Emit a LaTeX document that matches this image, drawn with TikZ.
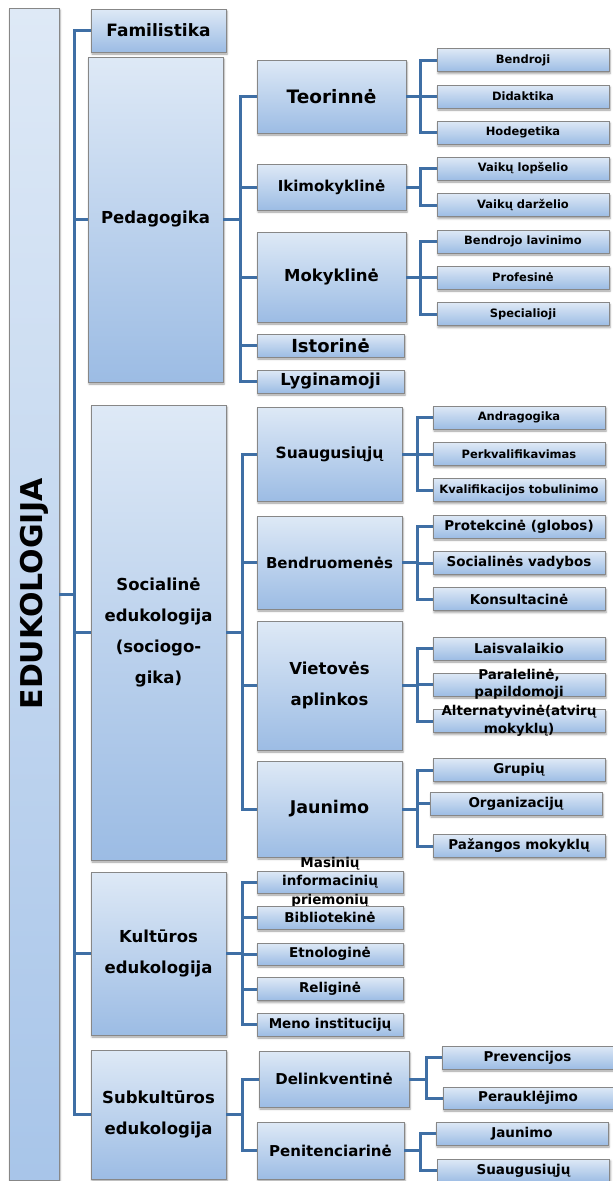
\documentclass[tikz,border=0pt]{standalone}
\usepackage{fontspec}
\setmainfont{DejaVu Sans}
\usetikzlibrary{shadows.blur}

\definecolor{boxtop}{RGB}{222,233,246}
\definecolor{boxbot}{RGB}{156,188,228}
\definecolor{roottop}{RGB}{222,233,246}
\definecolor{rootbot}{RGB}{168,197,233}
\definecolor{boxline}{RGB}{135,135,135}
\definecolor{linkblue}{RGB}{63,111,165}
\newcommand\fsz[2]{\fontsize{#1}{#2}\selectfont}

\begin{document}
\begin{tikzpicture}[x=1pt, y=-1pt,
   box/.style={draw=boxline, line width=0.7pt, top color=boxtop, bottom color=boxbot,
      inner sep=0pt, align=center,
      blur shadow={shadow xshift=1pt, shadow yshift=-2pt, shadow blur radius=2pt, shadow opacity=40}},
   wh/.style 2 args={minimum width=#1pt, minimum height=#2pt},
   fs/.style 2 args={font=\bfseries\fsz{#1}{#2}},
   topic/.style={box, wh={135}{#1}, fs={16.5}{31}},
   leaf/.style={box, wh={172}{23}},
   link/.style={draw=linkblue, line width=3pt}]
   \useasboundingbox (0,0) rectangle (613,1181);

   \node[box, wh={50}{1172}, top color=roottop, bottom color=rootbot,
      label={[rotate=90, fs={30}{36}]center:EDUKOLOGIJA}] (root) at (34,594) {};

   \node[topic=43]  (fam) at (158.5,30.5)   {\fsz{17}{20}Familistika};
   \node[topic=325] (ped) at (155.5,219.5)  {Pedagogika};
   \node[topic=455] (soc) at (158.5,632.5)  {Socialinė\\edukologija\\(sociogo-\\gika)};
   \node[topic=163] (kul) at (158.5,953.5)  {Kultūros\\edukologija};
   \node[topic=129] (sub) at (158.5,1114.5) {Subkultūros\\edukologija};

   \node[box, wh={149}{73}, fs={18.5}{22}] (teo) at (331.5,96.5) {Teorinnė};
   \node[box, wh={149}{46}, fs={15}{18}]   (iki) at (331.5,187)  {Ikimokyklinė};
   \node[box, wh={149}{90}, fs={16.5}{20}] (mok) at (331.5,277)  {Mokyklinė};
   \node[box, wh={147}{23}, fs={18}{21}]   (ist) at (330.5,345.5) {Istorinė};
   \node[box, wh={147}{23}, fs={16.5}{20}] (lyg) at (330.5,381.5) {Lyginamoji};

   \node[leaf, fs={11.5}{14}] (bdr) at (523,60)    {Bendroji};
   \node[leaf, fs={11.5}{14}] (did) at (523,96.5)  {Didaktika};
   \node[leaf, fs={11.5}{14}] (hod) at (523,132.5) {Hodegetika};
   \node[leaf, fs={11.5}{14}] (lop) at (523,168.5) {Vaikų lopšelio};
   \node[leaf, fs={11.5}{14}] (dar) at (523,205)   {Vaikų darželio};
   \node[leaf, fs={11.5}{14}] (bla) at (523,241.5) {Bendrojo lavinimo};
   \node[leaf, fs={11.5}{14}] (pro) at (523,277.5) {Profesinė};
   \node[leaf, fs={11.5}{14}] (spe) at (523,314)   {Specialioji};

   \node[box, wh={145}{94}, fs={15.5}{19}]  (sua) at (329.5,454)   {Suaugusiųjų};
   \node[box, wh={145}{93}, fs={15}{18}]    (ben) at (329.5,562.5) {Bendruomenės};
   \node[box, wh={145}{129}, fs={16.5}{31}] (vie) at (329.5,685.5) {Vietovės\\aplinkos};
   \node[box, wh={145}{96}, fs={17.5}{21}]  (jau) at (329.5,809)   {Jaunimo};

   \node[leaf, fs={11.5}{14}] (andr) at (519,417.5) {Andragogika};
   \node[leaf, fs={11.5}{14}] (per) at (519,454)   {Perkvalifikavimas};
   \node[leaf, fs={11.5}{14}] (kva) at (519,490)   {Kvalifikacijos tobulinimo};
   \node[leaf, fs={13.5}{16}] (glo) at (519,526.5) {Protekcinė (globos)};
   \node[leaf, fs={13.5}{16}] (vad) at (519,563)   {Socialinės vadybos};
   \node[leaf, fs={13.5}{16}] (kon) at (519,599)   {Konsultacinė};
   \node[leaf, fs={13.5}{16}] (lai) at (519,648.5) {Laisvalaikio};
   \node[leaf, label={[fs={13.5}{17}, align=center]center:{Paralelinė,\\papildomoji}}] (par) at (519,684.5) {};
   \node[leaf, label={[fs={13.5}{17.6}, align=center]center:{Alternatyvinė(atvirų\\mokyklų)}}] (alt) at (519,721) {};
   \node[leaf, fs={13.5}{16}] (gru) at (519,770)   {Grupių};
   \node[leaf, fs={13.5}{16}] (org) at (516,803.5) {Organizacijų};
   \node[leaf, fs={13.5}{16}] (paz) at (519,846)   {Pažangos mokyklų};

   \node[box, wh={146}{22}, label={[fs={13.5}{18.5}, align=center]center:{Masinių\\informacinių\\priemonių}}] (mas) at (330,882) {};
   \node[box, wh={146}{23}, fs={13.5}{16}] (bib) at (330,917.5)  {Bibliotekinė};
   \node[box, wh={146}{22}, fs={13.5}{16}] (etn) at (330,954)    {Etnologinė};
   \node[box, wh={146}{23}, fs={13.5}{16}] (rel) at (330,989)    {Religinė};
   \node[box, wh={146}{23}, fs={13.5}{16}] (men) at (330,1024.5) {Meno institucijų};

   \node[box, wh={150}{56}, fs={15}{18}] (del) at (334,1079)    {Delinkventinė};
   \node[box, wh={147}{57}, fs={15}{18}] (pen) at (330.5,1150.5) {Penitenciarinė};

   \node[leaf, wh={171}{23}, fs={13.5}{16}] (pre) at (527.5,1057.5) {Prevencijos};
   \node[leaf, wh={170}{22}, fs={13.5}{16}] (pra) at (528,1098)     {Perauklėjimo};
   \node[leaf, fs={13.5}{16}] (jnm) at (522,1133.5) {Jaunimo};
   \node[leaf, fs={13.5}{16}] (sug) at (523.5,1170.5) {Suaugusiųjų};

   \foreach \c in {fam,ped,soc,kul,sub} \draw[link] (root.east) -- ++(15,0) |- (\c.west);
   \foreach \c in {teo,iki,mok,ist,lyg} \draw[link] (ped.east) -- ++(17,0) |- (\c.west);
   \foreach \c in {bdr,did,hod} \draw[link] (teo.east) -- ++(14,0) |- (\c.west);
   \foreach \c in {lop,dar} \draw[link] (iki.east) -- ++(14,0) |- (\c.west);
   \foreach \c in {bla,pro,spe} \draw[link] (mok.east) -- ++(14,0) |- (\c.west);
   \foreach \c in {sua,ben,vie,jau} \draw[link] (soc.east) -- ++(16,0) |- (\c.west);
   \foreach \c in {andr,per,kva} \draw[link] (sua.east) -- ++(15,0) |- (\c.west);
   \foreach \c in {glo,vad,kon} \draw[link] (ben.east) -- ++(15,0) |- (\c.west);
   \foreach \c in {lai,par,alt} \draw[link] (vie.east) -- ++(15,0) |- (\c.west);
   \foreach \c in {gru,org,paz} \draw[link] (jau.east) -- ++(15,0) |- (\c.west);
   \foreach \c in {mas,bib,etn,rel,men} \draw[link] (kul.east) -- ++(16,0) |- (\c.west);
   \foreach \c in {del,pen} \draw[link] (sub.east) -- ++(16,0) |- (\c.west);
   \foreach \c in {pre,pra} \draw[link] (del.east) -- ++(17,0) |- (\c.west);
   \foreach \c in {jnm,sug} \draw[link] (pen.east) -- ++(16,0) |- (\c.west);
\end{tikzpicture}
\end{document}
